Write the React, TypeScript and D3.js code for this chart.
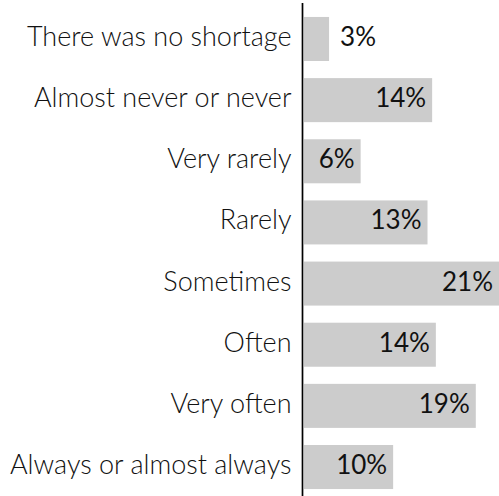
import React from 'react';
import * as d3 from 'd3';

const categories = [
  'There was no shortage',
  'Almost never or never',
  'Very rarely',
  'Rarely',
  'Sometimes',
  'Often',
  'Very often',
  'Always or almost always',
];
const shares = [2.7, 13.8, 6.1, 13.3, 21, 14.2, 18.5, 9.6];
const shareLabels = ['3%', '14%', '6%', '13%', '21%', '14%', '19%', '10%'];

const width = 499;
const height = 496;
const axisX = 302.5;

export default function App() {
  const x = d3.scaleLinear().domain([0, 21]).range([304, 499]);
  const y = d3
    .scaleBand<string>()
    .domain(categories)
    .range([8.4, 497.6])
    .paddingInner(0.28)
    .paddingOuter(0.14);

  return (
    <svg
      width={width}
      height={height}
      style={{ position: 'absolute', left: 0, top: 0, background: '#fff' }}
      fontFamily="Lato"
    >
      {categories.map((c, i) => {
        const yy = y(c)!;
        const mid = yy + y.bandwidth() / 2;
        const end = x(shares[i]);
        const inside = end - x(0) > 40;
        return (
          <g key={c}>
            <rect x={x(0)} y={yy} width={end - x(0)} height={y.bandwidth()} fill="#cccccc" />
            <text
              x={axisX - 11}
              y={mid + 7}
              textAnchor="end"
              fontSize={27}
              fontWeight={300}
              fill="#111"
            >
              {c}
            </text>
            <text
              x={inside ? end - 6 : end + 11}
              y={mid + 7}
              textAnchor={inside ? 'end' : 'start'}
              fontSize={26}
              fontWeight={400}
              fill="#111"
            >
              {shareLabels[i]}
            </text>
          </g>
        );
      })}
      <line x1={axisX} x2={axisX} y1={3} y2={height} stroke="#000" strokeWidth={1.7} />
    </svg>
  );
}
